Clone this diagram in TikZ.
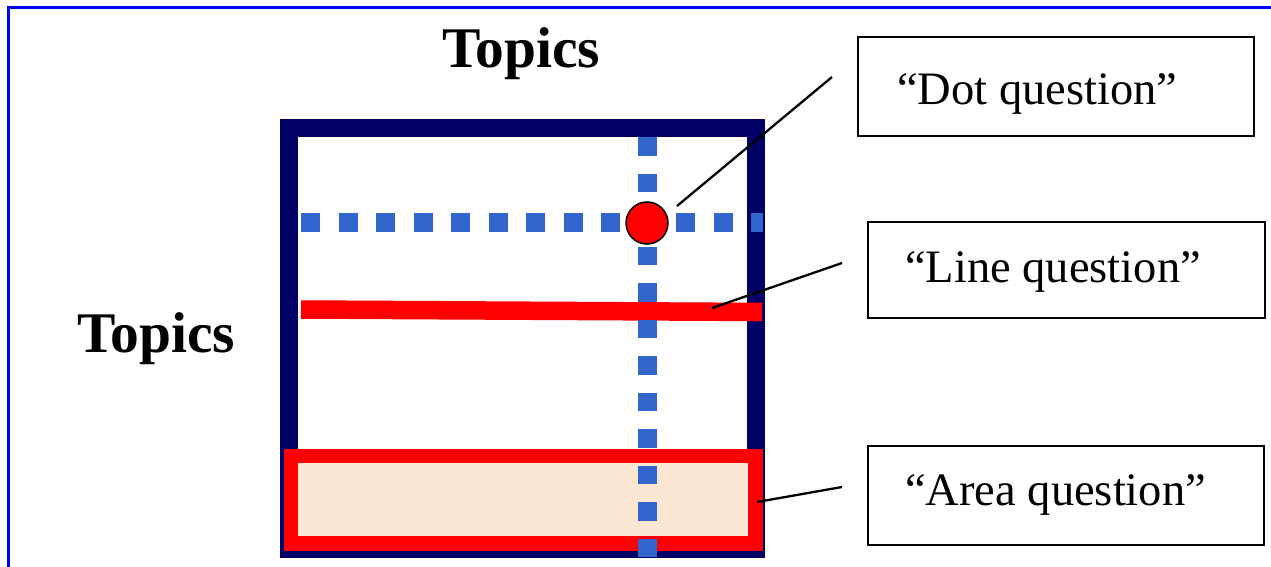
\documentclass[tikz,border=0pt]{standalone}
\usepackage{fontspec}
\setmainfont{Liberation Serif}
\definecolor{navyc}{RGB}{0,0,102}
\definecolor{dotblue}{RGB}{51,102,204}
\definecolor{peach}{RGB}{252,230,212}
\definecolor{framec}{RGB}{0,0,255}
\tikzset{
  qbox/.style={draw=black, line width=2.5pt, rectangle, inner sep=0pt},
  qtext/.style={anchor=base west, inner sep=0pt, font=\fontsize{46.5}{50}\selectfont},
  ttext/.style={anchor=base west, inner sep=0pt, font=\fontsize{57.5}{60}\selectfont\bfseries},
  dotline/.style={draw=dotblue, line width=19pt, line cap=butt, dash pattern=on 19pt off 18.5pt},
  leader/.style={draw=black, line width=2.3pt}
}
\begin{document}
\begin{tikzpicture}[x=1pt,y=-1pt]
\useasboundingbox (0,0) rectangle (1271,567);
\fill[white] (0,0) rectangle (1271,567);
% outer frame (only top and left visible)
\draw[framec, line width=3pt] (8,580) -- (8,7.5) -- (1290,7.5);
% navy grid box
\draw[navyc, line width=18pt] (289,128) rectangle (755.5,549);
% area rectangle
\draw[red, line width=14.5pt, fill=peach] (291,456) rectangle (755.5,543.5);
% line question
\draw[red, line width=18.5pt] (301,309.5) -- (762,312);
% dotted guides
\draw[dotline] (301,222.5) -- (763,222.5);
\draw[dotline, dash pattern=on 18.5pt off 18pt] (647,137) -- (647,557);
% dot
\node[circle, draw=black, line width=1.5pt, fill=red, minimum size=42pt, inner sep=0pt] (dot) at (647,223) {};
% titles
\node[ttext] (topx) at (442,68) {Topics};
\node[ttext] (topy) at (77,352) {Topics};
% boxes
\node[qbox, minimum width=396pt, minimum height=99pt] (dotbox) at (1056,86.5) {};
\node[qbox, minimum width=397pt, minimum height=96pt] (linebox) at (1066.5,270) {};
\node[qbox, minimum width=396pt, minimum height=99pt] (areabox) at (1066,495.5) {};
\node[qtext] (dottext) at (897,105) {“Dot question”};
\node[qtext] (linetext) at (905,282) {“Line question”};
\node[qtext] (areatext) at (905,505) {“Area question”};
% leaders
\coordinate (d1) at (677,206);
\coordinate (d2) at (832,77);
\coordinate (l1) at (712,308);
\coordinate (l2) at (842,263);
\coordinate (a1) at (757,502);
\coordinate (a2) at (842,487);
\draw[leader] (d1) -- (d2);
\draw[leader] (l1) -- (l2);
\draw[leader] (a1) -- (a2);
\end{tikzpicture}
\end{document}
